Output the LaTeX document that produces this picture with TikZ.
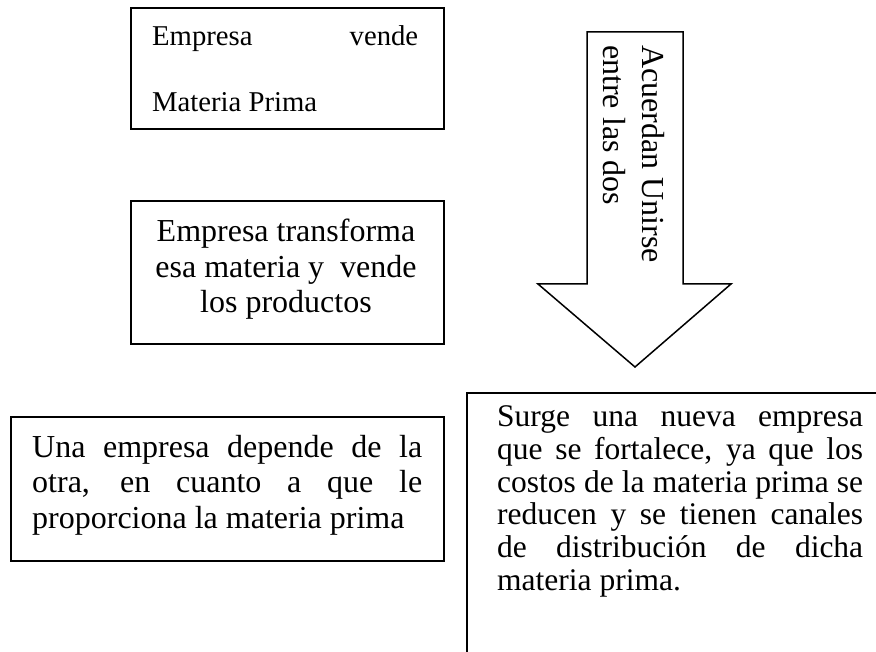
\documentclass[tikz,border=0pt]{standalone}
\usepackage{fontspec}
\setmainfont{Liberation Serif}
\tikzset{
  frame/.style={draw=black, line width=1.8pt, inner sep=0pt, anchor=north west},
  txt/.style={inner sep=0pt, anchor=base west, font=\fontsize{32}{36}\selectfont},
  txtsmall/.style={txt, font=\fontsize{28.7}{33}\selectfont},
  txtb/.style={txt, font=\fontsize{31.5}{34}\selectfont},
  arrowshape/.style={draw=black, line width=1.5pt, fill=white, line join=miter}
}
\begin{document}
\begin{tikzpicture}[x=1pt,y=-1pt]
\useasboundingbox (0,0) rectangle (876,652);
% boxes
\node[frame, minimum width=313pt, minimum height=121pt] (b1) at (130,7) {};
\node[frame, minimum width=313pt, minimum height=143pt] (b2) at (130,200) {};
\node[frame, minimum width=433pt, minimum height=144pt] (b3) at (10,416) {};
\begin{scope}
  \clip (0,0) rectangle (876,652);
  \node[frame, minimum width=430pt, minimum height=280pt] (b4) at (466,392) {};
\end{scope}
% arrow
\coordinate (sl) at (587,32);
\coordinate (sr) at (683,32);
\coordinate (hr) at (683,284);
\coordinate (hro) at (731,284);
\coordinate (tip) at (635,367);
\coordinate (hlo) at (538,284);
\coordinate (hl) at (587,284);
\draw[arrowshape] (sl) -- (sr) -- (hr) -- (hro) -- (tip) -- (hlo) -- (hl) -- cycle;
\node[txt, rotate=-90] (a1) at (642,45) {Acuerdan Unirse};
\node[txt, rotate=-90] (a2) at (603,45) {entre las dos};
% box 1 text
\node[txtsmall] (t1a) at (152,46) {\makebox[266pt][s]{Empresa vende}};
\node[txtsmall] (t1b) at (152,112) {Materia Prima};
% box 2 text
\node[txt, anchor=base] (t2a) at (286,242) {Empresa transforma};
\node[txt, anchor=base] (t2b) at (286,277.5) {esa materia y\ \ vende};
\node[txt, anchor=base] (t2c) at (286,313) {los productos};
% box 3 text
\node[txt] (t3a) at (32,457) {\makebox[390pt][s]{Una empresa depende de la}};
\node[txt] (t3b) at (32,492.5) {\makebox[390pt][s]{otra, en cuanto a que le}};
\node[txt] (t3c) at (32,528) {proporciona la materia prima};
% box 4 text
\node[txtb] (t4a) at (497,427) {\makebox[366pt][s]{Surge una nueva empresa}};
\node[txtb] (t4b) at (497,459.6) {\makebox[366pt][s]{que se fortalece, ya que los}};
\node[txtb] (t4c) at (497,492.2) {\makebox[366pt][s]{costos de la materia prima se}};
\node[txtb] (t4d) at (497,524.8) {\makebox[366pt][s]{reducen y se tienen canales}};
\node[txtb] (t4e) at (497,557.4) {\makebox[366pt][s]{de distribución de dicha}};
\node[txtb] (t4f) at (497,590) {materia prima.};
\end{tikzpicture}
\end{document}
